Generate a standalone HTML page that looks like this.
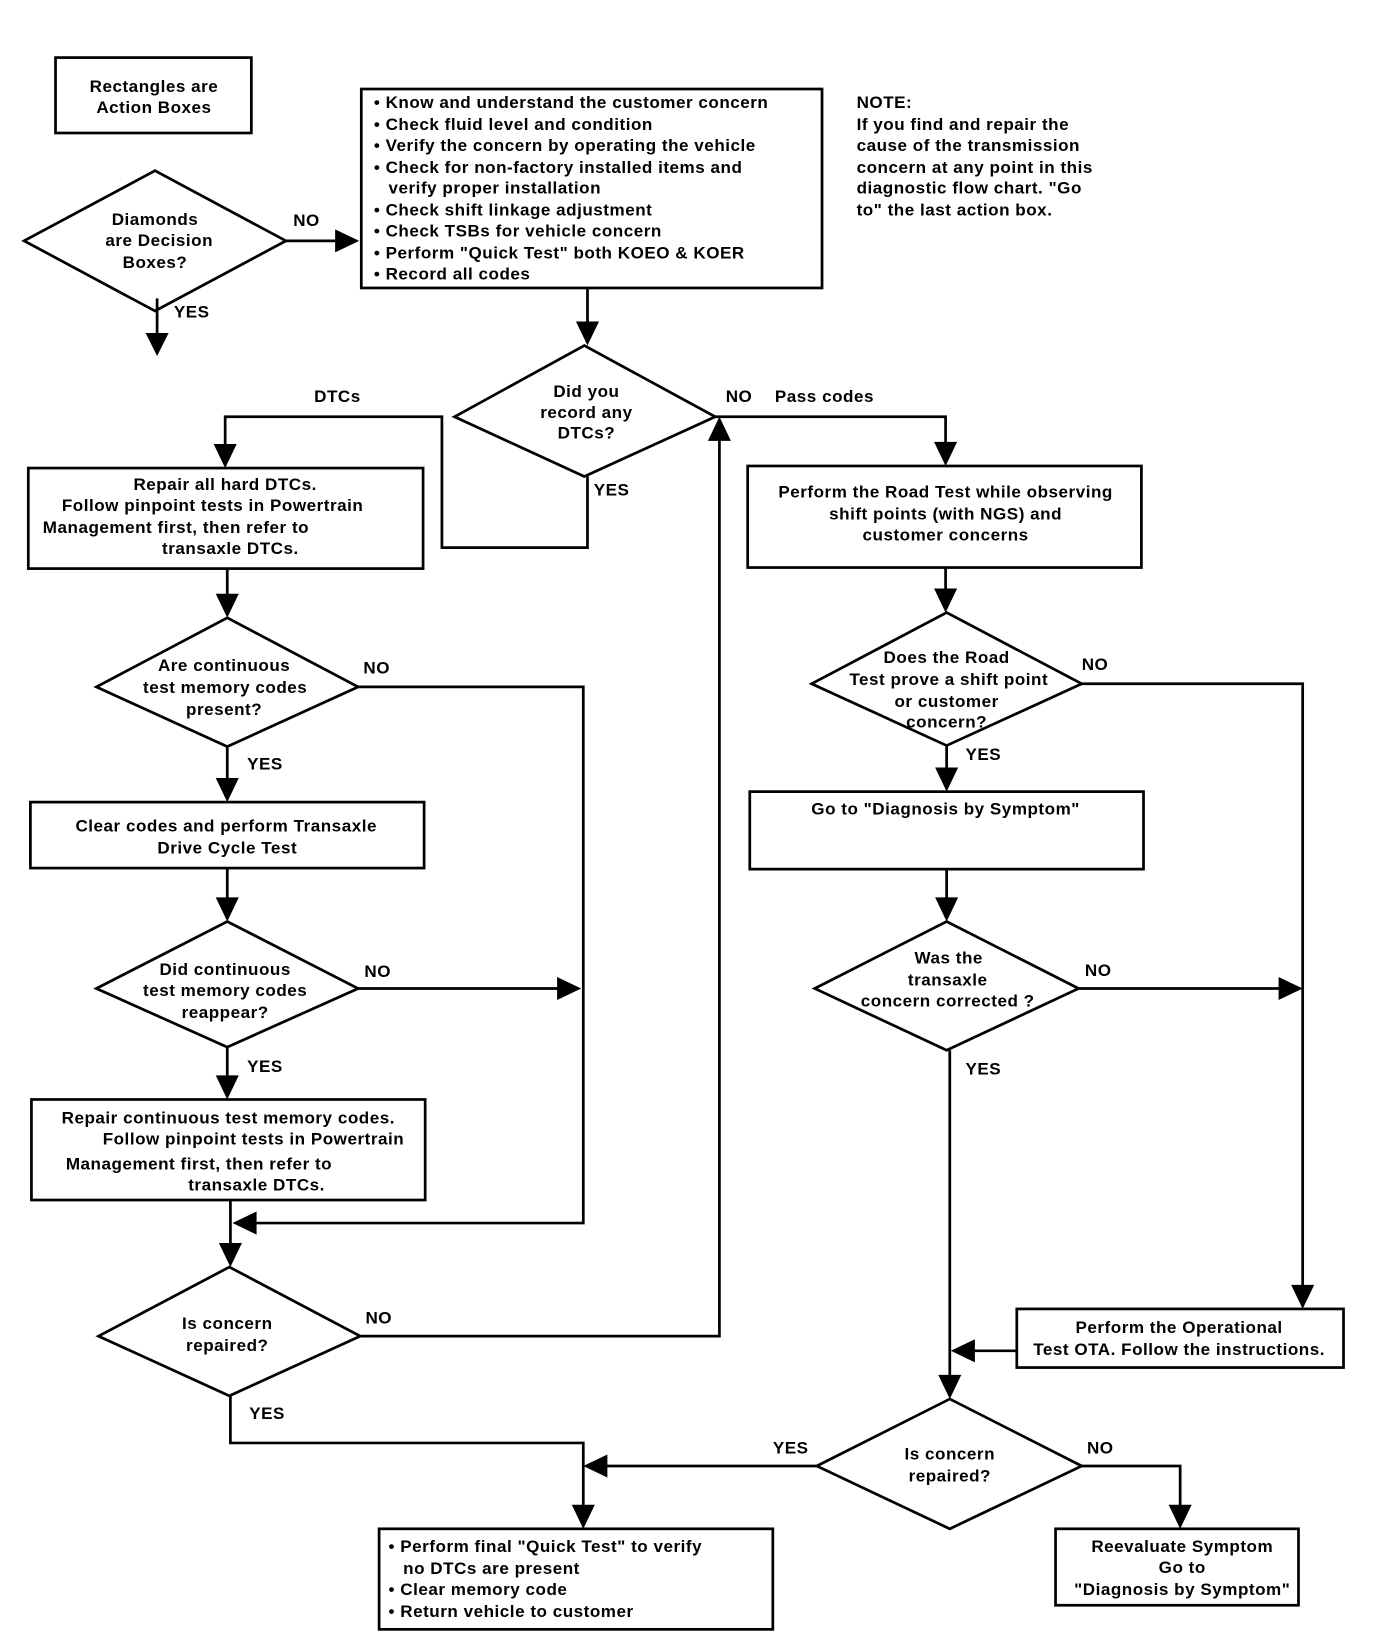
<!DOCTYPE html>
<html><head><meta charset="utf-8"><style>
html,body{margin:0;padding:0;background:#fff}
svg{display:block}
text{font-family:"Liberation Sans",Arial,sans-serif;font-weight:bold;font-size:16.3px;letter-spacing:0.5px;fill:#000}
</style></head><body>
<svg width="1376" height="1644" viewBox="0 0 1314 1570" xmlns="http://www.w3.org/2000/svg">
<g fill="none" stroke="#000" stroke-width="2.6">
<rect x="53" y="55" width="187" height="72"/>
<rect x="345" y="85" width="440" height="190"/>
<rect x="27" y="447" width="377" height="96"/>
<rect x="29" y="766" width="376" height="63"/>
<rect x="30" y="1050" width="376" height="96"/>
<rect x="362" y="1460" width="376" height="96"/>
<rect x="714" y="445" width="376" height="97"/>
<rect x="716" y="756" width="376" height="74"/>
<rect x="971" y="1250" width="312" height="56"/>
<rect x="1008" y="1460" width="232" height="73"/>
<polygon points="23,230 148,163 273,230 148,297"/>
<polygon points="434,398 558,330 683,398 558,455"/>
<polygon points="92,656 217,590 342,656 217,713"/>
<polygon points="92,944 217,880 342,944 217,1000"/>
<polygon points="94,1276 219,1210 344,1276 219,1333"/>
<polygon points="775,653 904,585 1033,653 904,712"/>
<polygon points="778,944 904,880 1030,944 904,1003"/>
<polygon points="780,1400 907,1336 1033,1400 907,1460"/>
<polyline points="273,230 325,230"/>
<polyline points="150,285 150,322"/>
<polyline points="561,275 561,312"/>
<polyline points="561,455 561,523 422,523 422,398 215,398 215,428"/>
<polyline points="683,398 903,398 903,427"/>
<polyline points="217,543 217,572"/>
<polyline points="342,656 557,656 557,1168 240,1168"/>
<polyline points="217,713 217,748"/>
<polyline points="217,829 217,862"/>
<polyline points="342,944 537,944"/>
<polyline points="217,1000 217,1032"/>
<polyline points="220,1146 220,1192"/>
<polyline points="344,1276 687,1276 687,416"/>
<polyline points="220,1333 220,1378 557,1378 557,1442"/>
<polyline points="903,542 903,567"/>
<polyline points="1033,653 1244,653 1244,1232"/>
<polyline points="904,712 904,738"/>
<polyline points="904,830 904,862"/>
<polyline points="1030,944 1226,944"/>
<polyline points="907,1003 907,1318"/>
<polyline points="971,1290 926,1290"/>
<polyline points="780,1400 575,1400"/>
<polyline points="1033,1400 1127,1400 1127,1442"/>
</g>
<g fill="#000">
<polygon points="343,230 320,219 320,241"/>
<polygon points="150,340 139,318 161,318"/>
<polygon points="561,330 550,307 572,307"/>
<polygon points="215,447 204,424 226,424"/>
<polygon points="903,445 892,422 914,422"/>
<polygon points="217,590 206,567 228,567"/>
<polygon points="222,1168 245,1157 245,1179"/>
<polygon points="217,766 206,743 228,743"/>
<polygon points="217,880 206,857 228,857"/>
<polygon points="555,944 532,933 532,955"/>
<polygon points="217,1050 206,1027 228,1027"/>
<polygon points="220,1210 209,1187 231,1187"/>
<polygon points="687,398 676,421 698,421"/>
<polygon points="557,1460 546,1437 568,1437"/>
<polygon points="903,585 892,562 914,562"/>
<polygon points="1244,1250 1233,1227 1255,1227"/>
<polygon points="904,756 893,733 915,733"/>
<polygon points="904,880 893,857 915,857"/>
<polygon points="1244,944 1221,933 1221,955"/>
<polygon points="907,1336 896,1313 918,1313"/>
<polygon points="908,1290 931,1279 931,1301"/>
<polygon points="557,1400 580,1389 580,1411"/>
<polygon points="1127,1460 1116,1437 1138,1437"/>
</g>
<g text-anchor="middle">
<text x="147" y="88">Rectangles are</text>
<text x="147" y="108">Action Boxes</text>
<text x="148" y="215">Diamonds</text>
<text x="152" y="235">are Decision</text>
<text x="148" y="256">Boxes?</text>
<text x="560" y="379">Did you</text>
<text x="560" y="399">record any</text>
<text x="560" y="419">DTCs?</text>
<text x="215" y="468">Repair all hard DTCs.</text>
<text x="203" y="488">Follow pinpoint tests in Powertrain</text>
<text x="168" y="509">Management first, then refer to</text>
<text x="220" y="529">transaxle DTCs.</text>
<text x="214" y="641">Are continuous</text>
<text x="215" y="662">test memory codes</text>
<text x="214" y="683">present?</text>
<text x="216" y="794">Clear codes and perform Transaxle</text>
<text x="217" y="815">Drive Cycle Test</text>
<text x="215" y="931">Did continuous</text>
<text x="215" y="951">test memory codes</text>
<text x="215" y="972">reappear?</text>
<text x="218" y="1073">Repair continuous test memory codes.</text>
<text x="242" y="1093">Follow pinpoint tests in Powertrain</text>
<text x="190" y="1117">Management first, then refer to</text>
<text x="245" y="1137">transaxle DTCs.</text>
<text x="217" y="1269">Is concern</text>
<text x="217" y="1290">repaired?</text>
<text x="903" y="475">Perform the Road Test while observing</text>
<text x="903" y="496">shift points (with NGS) and</text>
<text x="903" y="516">customer concerns</text>
<text x="904" y="633">Does the Road</text>
<text x="906" y="654">Test prove a shift point</text>
<text x="904" y="675">or customer</text>
<text x="904" y="695">concern?</text>
<text x="903" y="778">Go to "Diagnosis by Symptom"</text>
<text x="906" y="920">Was the</text>
<text x="905" y="941">transaxle</text>
<text x="905" y="961">concern corrected ?</text>
<text x="1126" y="1273">Perform the Operational</text>
<text x="1126" y="1294">Test OTA. Follow the instructions.</text>
<text x="907" y="1394">Is concern</text>
<text x="907" y="1415">repaired?</text>
<text x="1129" y="1482">Reevaluate Symptom</text>
<text x="1129" y="1502">Go to</text>
<text x="1129" y="1523">"Diagnosis by Symptom"</text>
</g>
<g>
<text x="357" y="103">• Know and understand the customer concern</text>
<text x="357" y="124">• Check fluid level and condition</text>
<text x="357" y="144">• Verify the concern by operating the vehicle</text>
<text x="357" y="165">• Check for non-factory installed items and</text>
<text x="371" y="185">verify proper installation</text>
<text x="357" y="206">• Check shift linkage adjustment</text>
<text x="357" y="226">• Check TSBs for vehicle concern</text>
<text x="357" y="247">• Perform "Quick Test" both KOEO &amp; KOER</text>
<text x="357" y="267">• Record all codes</text>
<text x="818" y="103">NOTE:</text>
<text x="818" y="124">If you find and repair the</text>
<text x="818" y="144">cause of the transmission</text>
<text x="818" y="165">concern at any point in this</text>
<text x="818" y="185">diagnostic flow chart. "Go</text>
<text x="818" y="206">to" the last action box.</text>
<text x="371" y="1482">• Perform final "Quick Test" to verify</text>
<text x="385" y="1503">no DTCs are present</text>
<text x="371" y="1523">• Clear memory code</text>
<text x="371" y="1544">• Return vehicle to customer</text>
<text x="280" y="216">NO</text>
<text x="166" y="303">YES</text>
<text x="300" y="384">DTCs</text>
<text x="693" y="384">NO</text>
<text x="740" y="384">Pass codes</text>
<text x="567" y="473">YES</text>
<text x="347" y="643">NO</text>
<text x="236" y="735">YES</text>
<text x="348" y="933">NO</text>
<text x="236" y="1024">YES</text>
<text x="349" y="1264">NO</text>
<text x="238" y="1355">YES</text>
<text x="1033" y="640">NO</text>
<text x="922" y="726">YES</text>
<text x="1036" y="932">NO</text>
<text x="922" y="1026">YES</text>
<text x="738" y="1388">YES</text>
<text x="1038" y="1388">NO</text>
</g>
</svg>
</body></html>
